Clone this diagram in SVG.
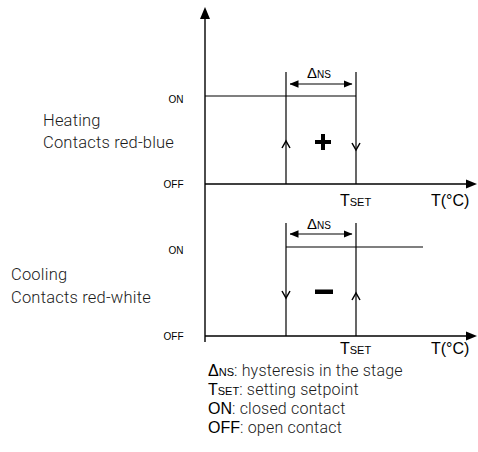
<svg xmlns="http://www.w3.org/2000/svg" width="478" height="452" viewBox="0 0 478 452">
<style>
.ln{stroke:#000;stroke-width:1.2;fill:none}
.ax{stroke:#000;stroke-width:1.4;fill:none}
.chev{stroke:#000;stroke-width:1.5;fill:none}
.ar{font-family:"Liberation Sans",Arial,sans-serif;fill:#000}
.rd{font-family:Roboto,"Noto Sans",sans-serif;font-weight:300;fill:#1a1a1a;letter-spacing:0.2px}
.lbl{font-size:10px;text-anchor:end}
</style>
<defs>
<marker id="dh" viewBox="0 0 9 8" refX="8.5" refY="4" markerWidth="9" markerHeight="8" markerUnits="userSpaceOnUse" orient="auto-start-reverse">
<path d="M0,0.3 L9,4 L0,7.7 Z" fill="#000"/>
</marker>
</defs>
<rect width="478" height="452" fill="#fff"/>

<g id="axes">
<line class="ax" x1="205" y1="14" x2="205" y2="342"/>
<polygon points="205,7 200,19 210,19" fill="#000"/>
<line class="ax" x1="205" y1="184" x2="470" y2="184"/>
<polygon points="477,184 466,179.5 466,188.5" fill="#000"/>
<line class="ax" x1="205" y1="336" x2="470" y2="336"/>
<polygon points="477,336 466,331.5 466,340.5" fill="#000"/>
</g>

<g id="heating">
<line class="ln" x1="205" y1="96" x2="356" y2="96"/>
<line class="ln" x1="286" y1="72" x2="286" y2="184"/>
<line class="ln" x1="356" y1="72" x2="356" y2="184"/>
<line class="ln" x1="290" y1="84" x2="352" y2="84" marker-start="url(#dh)" marker-end="url(#dh)"/>
<polyline class="chev" points="282,148 286,141 290,148"/>
<polyline class="chev" points="352,143 356,150 360,143"/>
<path d="M315,142 H331 M323,134 V150" stroke="#000" stroke-width="4"/>
<text class="ar" x="307" y="78" font-size="15">Δ<tspan font-size="10">NS</tspan></text>
<text class="ar lbl" x="183.5" y="102.5">ON</text>
<text class="ar lbl" x="183.5" y="188">OFF</text>
<text class="ar" x="340" y="205.5" font-size="16">T<tspan font-size="11">SET</tspan></text>
<text class="ar" x="431" y="205.5" font-size="16">T(°C)</text>
<text class="rd" x="43" y="126" font-size="16.5">Heating</text>
<text class="rd" x="43" y="148" font-size="16.5">Contacts red-blue</text>
</g>

<g id="cooling">
<line class="ln" x1="286" y1="247" x2="423" y2="247"/>
<line class="ln" x1="286" y1="223" x2="286" y2="336"/>
<line class="ln" x1="356" y1="223" x2="356" y2="336"/>
<line class="ln" x1="290" y1="234" x2="352" y2="234" marker-start="url(#dh)" marker-end="url(#dh)"/>
<polyline class="chev" points="282,291 286,298 290,291"/>
<polyline class="chev" points="352,300 356,293 360,300"/>
<rect x="315" y="289.5" width="18" height="4.5" fill="#000"/>
<text class="ar" x="307" y="229" font-size="15">Δ<tspan font-size="10">NS</tspan></text>
<text class="ar lbl" x="183.5" y="254">ON</text>
<text class="ar lbl" x="183.5" y="339.5">OFF</text>
<text class="ar" x="340" y="354" font-size="16">T<tspan font-size="11">SET</tspan></text>
<text class="ar" x="431" y="354" font-size="16">T(°C)</text>
<text class="rd" x="11" y="280" font-size="16.5">Cooling</text>
<text class="rd" x="11" y="303" font-size="16.5">Contacts red-white</text>
</g>

<g id="legend">
<text x="208" y="376" font-size="16"><tspan class="ar">Δ</tspan><tspan class="ar" font-size="11">NS</tspan><tspan class="rd">: hysteresis in the stage</tspan></text>
<text x="208" y="395" font-size="16"><tspan class="ar">T</tspan><tspan class="ar" font-size="11">SET</tspan><tspan class="rd">: setting setpoint</tspan></text>
<text x="208" y="414" font-size="16"><tspan class="ar">ON</tspan><tspan class="rd">: closed contact</tspan></text>
<text x="208" y="433" font-size="16"><tspan class="ar">OFF</tspan><tspan class="rd">: open contact</tspan></text>
</g>
</svg>
